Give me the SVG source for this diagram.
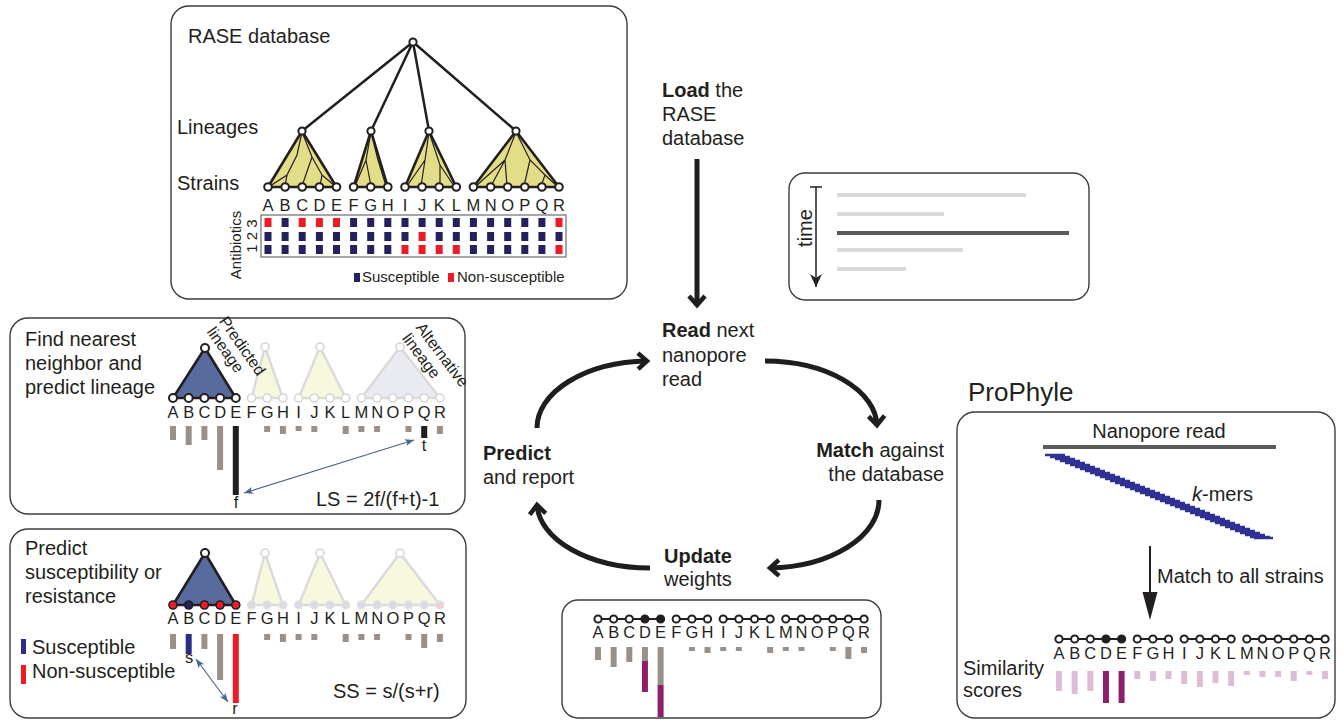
<svg xmlns="http://www.w3.org/2000/svg" width="1340" height="721" viewBox="0 0 1340 721">
<defs>
<style>
text{font-family:"Liberation Sans",Arial,Helvetica,sans-serif;fill:#231f20}
.t20{font-size:20px}
.t15{font-size:15px}
.t16{font-size:16px}
.lt{font-size:16.5px;text-anchor:middle}
.box{fill:#fff;stroke:#3c3c3c;stroke-width:1.4}
.n{fill:#fff;stroke:#231f20;stroke-width:2}
.nf{fill:#231f20;stroke:#231f20;stroke-width:2}
.tri{fill:#e3dd87;stroke:#231f20;stroke-width:2.6;stroke-linejoin:round}
.btri{fill:#586b9f;stroke:#231f20;stroke-width:2.6;stroke-linejoin:round}
.tl{fill:none;stroke:#231f20;stroke-width:1.2}
.S{fill:#24215e}
.R{fill:#ed1c24}
.g{fill:#9a908a}
.k{fill:#231f20}
.pk{fill:#dfbcd6}
.pu{fill:#8d1f6f}
.cyc{fill:none;stroke:#1e1e1e;stroke-width:5;marker-end:url(#chev)}
.fy{fill:#f8f8df;stroke:#dadada;stroke-width:2.4;stroke-linejoin:round}
.fb{fill:#e9ebf0;stroke:#dadada;stroke-width:2.4;stroke-linejoin:round}
.fn{fill:#fff;stroke:#d6d6d6;stroke-width:1.6}
.fn2{fill:#d9dbe3;stroke:#e2e2e2;stroke-width:1.4}
.row{stroke:#231f20;stroke-width:2}
.dbl{stroke:#4a6688;stroke-width:1.2;marker-start:url(#barb);marker-end:url(#barb)}
</style>
<marker id="chev" markerUnits="userSpaceOnUse" viewBox="-14 -11 18 22" refX="0" refY="0" markerWidth="18" markerHeight="22" orient="auto" overflow="visible">
<path d="M-9,-8 L0,0 L-9,8" fill="none" stroke="#1e1e1e" stroke-width="4.5"/>
</marker>
<marker id="tri" markerUnits="userSpaceOnUse" viewBox="-14 -7 16 14" refX="0" refY="0" markerWidth="16" markerHeight="14" orient="auto" overflow="visible">
<path d="M0,0 L-13,-6 L-9,0 L-13,6 z" fill="#231f20"/>
</marker>
<marker id="barb" markerUnits="userSpaceOnUse" viewBox="-10 -5 12 10" refX="0" refY="0" markerWidth="12" markerHeight="10" orient="auto-start-reverse" overflow="visible">
<path d="M0,0 L-9,-3.5 L-7,0 L-9,3.5 z" fill="#4a6688"/>
</marker>
</defs>
<rect width="1340" height="721" fill="#fff"/>

<g id="rase-database">
<rect class="box" x="171" y="6" width="456" height="293" rx="18"/>
<text class="t20" x="188" y="43">RASE database</text>
<text class="t20" x="177" y="134">Lineages</text>
<text class="t20" x="177" y="190">Strains</text>
<path d="M413,42 L302,131 M413,42 L371,131 M413,42 L429,131 M413,42 L516,131" stroke="#231f20" stroke-width="2.5" fill="none"/>
<polygon class="tri" points="302,131 268,187 336.5,187"/>
<polygon class="tri" points="371,131 353.6,187 387.8,187"/>
<polygon class="tri" points="429,131 405,187 456.3,187"/>
<polygon class="tri" points="516,131 473.4,187 559,187"/>
<path class="tl" d="M302,132 L297,155 L287,175 L270,186 M287,175 L285,186 M302,132 L312,157 L322,175 L320,186 M312,157 L302,186 M322,175 L335,186"/>
<path class="tl" d="M371,132 L366,160 L355,186 M366,160 L371,186 M371,132 L378,160 L386,186"/>
<path class="tl" d="M429,132 L425,160 L407,186 M425,160 L421,186 M429,132 L440,165 L440,186 M440,165 L454,186"/>
<path class="tl" d="M516,132 L505,160 L491,186 M505,160 L476,186 M505,160 L507,186 M516,132 L530,160 L545,175 L557,186 M545,175 L541,186 M530,160 L524,186"/>
<circle class="n" cx="413" cy="42" r="3.6"/>
<circle class="n" cx="302" cy="131" r="3.6"/>
<circle class="n" cx="371" cy="131" r="3.6"/>
<circle class="n" cx="429" cy="131" r="3.6"/>
<circle class="n" cx="516" cy="131" r="3.6"/>
<g>
<circle class="n" cx="268" cy="187" r="3.8"/><circle class="n" cx="285.1" cy="187" r="3.8"/><circle class="n" cx="302.2" cy="187" r="3.8"/><circle class="n" cx="319.4" cy="187" r="3.8"/><circle class="n" cx="336.5" cy="187" r="3.8"/>
<circle class="n" cx="353.6" cy="187" r="3.8"/><circle class="n" cx="370.7" cy="187" r="3.8"/><circle class="n" cx="387.8" cy="187" r="3.8"/>
<circle class="n" cx="405" cy="187" r="3.8"/><circle class="n" cx="422.1" cy="187" r="3.8"/><circle class="n" cx="439.2" cy="187" r="3.8"/><circle class="n" cx="456.3" cy="187" r="3.8"/>
<circle class="n" cx="473.4" cy="187" r="3.8"/><circle class="n" cx="490.6" cy="187" r="3.8"/><circle class="n" cx="507.7" cy="187" r="3.8"/><circle class="n" cx="524.8" cy="187" r="3.8"/><circle class="n" cx="541.9" cy="187" r="3.8"/><circle class="n" cx="559" cy="187" r="3.8"/>
</g>
<text class="lt" x="268 285.1 302.2 319.4 336.5 353.6 370.7 387.8 405 422.1 439.2 456.3 473.4 490.6 507.7 524.8 541.9 559" y="211">ABCDEFGHIJKLMNOPQR</text>
<rect x="261" y="215" width="305" height="42" fill="none" stroke="#6d6d6d" stroke-width="1.2"/>
<g>
<rect class="R" x="264.5" y="218" width="7" height="9"/><rect class="S" x="281.6" y="218" width="7" height="9"/><rect class="R" x="298.7" y="218" width="7" height="9"/><rect class="R" x="315.9" y="218" width="7" height="9" fill="#d42a2a"/><rect class="R" x="333" y="218" width="7" height="9"/><rect class="S" x="350.1" y="218" width="7" height="9"/><rect class="S" x="367.2" y="218" width="7" height="9"/><rect class="S" x="384.3" y="218" width="7" height="9"/><rect class="S" x="401.5" y="218" width="7" height="9"/><rect class="S" x="418.6" y="218" width="7" height="9"/><rect class="S" x="435.7" y="218" width="7" height="9"/><rect class="S" x="452.8" y="218" width="7" height="9"/><rect class="S" x="469.9" y="218" width="7" height="9"/><rect class="S" x="487.1" y="218" width="7" height="9"/><rect class="S" x="504.2" y="218" width="7" height="9"/><rect class="S" x="521.3" y="218" width="7" height="9"/><rect class="S" x="538.4" y="218" width="7" height="9"/><rect class="R" x="555.5" y="218" width="7" height="9"/>
<rect class="S" x="264.5" y="232" width="7" height="9"/><rect class="S" x="281.6" y="232" width="7" height="9"/><rect class="S" x="298.7" y="232" width="7" height="9"/><rect class="S" x="315.9" y="232" width="7" height="9"/><rect class="S" x="333" y="232" width="7" height="9"/><rect class="S" x="350.1" y="232" width="7" height="9"/><rect class="S" x="367.2" y="232" width="7" height="9"/><rect class="S" x="384.3" y="232" width="7" height="9"/><rect class="S" x="401.5" y="232" width="7" height="9"/><rect class="R" x="418.6" y="232" width="7" height="9"/><rect class="S" x="435.7" y="232" width="7" height="9"/><rect class="S" x="452.8" y="232" width="7" height="9"/><rect class="S" x="469.9" y="232" width="7" height="9"/><rect class="S" x="487.1" y="232" width="7" height="9"/><rect class="S" x="504.2" y="232" width="7" height="9"/><rect class="S" x="521.3" y="232" width="7" height="9"/><rect class="S" x="538.4" y="232" width="7" height="9"/><rect class="S" x="555.5" y="232" width="7" height="9"/>
<rect class="S" x="264.5" y="245" width="7" height="9"/><rect class="S" x="281.6" y="245" width="7" height="9"/><rect class="S" x="298.7" y="245" width="7" height="9"/><rect class="S" x="315.9" y="245" width="7" height="9"/><rect class="S" x="333" y="245" width="7" height="9"/><rect class="S" x="350.1" y="245" width="7" height="9"/><rect class="S" x="367.2" y="245" width="7" height="9"/><rect class="S" x="384.3" y="245" width="7" height="9"/><rect class="R" x="401.5" y="245" width="7" height="9"/><rect class="R" x="418.6" y="245" width="7" height="9"/><rect class="R" x="435.7" y="245" width="7" height="9"/><rect class="R" x="452.8" y="245" width="7" height="9"/><rect class="S" x="469.9" y="245" width="7" height="9"/><rect class="S" x="487.1" y="245" width="7" height="9"/><rect class="S" x="504.2" y="245" width="7" height="9"/><rect class="S" x="521.3" y="245" width="7" height="9"/><rect class="S" x="538.4" y="245" width="7" height="9"/><rect class="R" x="555.5" y="245" width="7" height="9"/>
</g>
<text class="t15" transform="translate(241,245) rotate(-90)" text-anchor="middle">Antibiotics</text>
<text class="t15" transform="translate(257,236) rotate(-90)" text-anchor="middle">1 2 3</text>
<rect class="S" x="354" y="273" width="6" height="9"/>
<text class="t15" x="362" y="282">Susceptible</text>
<rect class="R" x="448" y="273" width="6" height="9"/>
<text class="t15" x="457" y="282">Non-susceptible</text>
</g>

<g id="load-text">
<text class="t20" x="662" y="97"><tspan font-weight="bold">Load</tspan> the</text>
<text class="t20" x="662" y="121">RASE</text>
<text class="t20" x="662" y="145">database</text>
</g>

<g id="read-stream">
<rect class="box" x="789" y="173" width="300" height="127" rx="16"/>
<line x1="810" y1="187" x2="822" y2="187" stroke="#231f20" stroke-width="1.5"/>
<line x1="816" y1="187" x2="816" y2="287" stroke="#231f20" stroke-width="1.5" marker-end="url(#tri)"/>
<text class="t20" transform="translate(812,228) rotate(-90)" text-anchor="middle">time</text>
<g stroke-width="4">
<line x1="837" y1="195" x2="1026" y2="195" stroke="#d9d9d9"/>
<line x1="837" y1="214" x2="944" y2="214" stroke="#d9d9d9"/>
<line x1="837" y1="233" x2="1069" y2="233" stroke="#5a5a5a"/>
<line x1="837" y1="250" x2="963" y2="250" stroke="#d9d9d9"/>
<line x1="837" y1="269" x2="906" y2="269" stroke="#d9d9d9"/>
</g>
</g>

<g id="step-read"><text class="t20" x="662" y="337"><tspan font-weight="bold">Read</tspan> next</text><text class="t20" x="662" y="362">nanopore</text><text class="t20" x="662" y="386">read</text></g>
<g id="step-match"><text class="t20" x="944" y="457" text-anchor="end"><tspan font-weight="bold">Match</tspan> against</text><text class="t20" x="944" y="481" text-anchor="end">the database</text></g>
<g id="step-update"><text class="t20" x="664" y="563" font-weight="bold">Update</text><text class="t20" x="664" y="586">weights</text></g>
<g id="step-predict"><text class="t20" x="483" y="460" font-weight="bold">Predict</text><text class="t20" x="483" y="484">and report</text></g>

<g id="connectors">
<line x1="697" y1="159" x2="697" y2="305" stroke="#1e1e1e" stroke-width="5" marker-end="url(#chev)"/>
<path class="cyc" d="M537,428 A113,67 0 0 1 647,361"/>
<path class="cyc" d="M765,361 A112,66 0 0 1 877,425"/>
<path class="cyc" d="M879,500 A112,68 0 0 1 770,568"/>
<path class="cyc" d="M650,568 A113,66 0 0 1 537,505"/>
</g>

<g id="lineage-box">
<rect class="box" x="10" y="318" width="455" height="196" rx="18"/>
<text class="t20" x="25" y="346">Find nearest</text>
<text class="t20" x="25" y="370">neighbor and</text>
<text class="t20" x="25" y="394">predict lineage</text>
<polygon class="fy" points="265,347 251.5,398 282.9,398"/>
<polygon class="fy" points="320,347 298.6,398 345.7,398"/>
<polygon class="fb" points="400,347 361.4,398 439.9,398"/>
<g class="fn">
<circle cx="265" cy="347" r="4"/><circle cx="320" cy="347" r="4"/><circle cx="400" cy="347" r="4"/>
<circle cx="251.5" cy="398" r="4"/><circle cx="267.2" cy="398" r="4"/><circle cx="282.9" cy="398" r="4"/><circle cx="298.6" cy="398" r="4"/><circle cx="314.3" cy="398" r="4"/><circle cx="330" cy="398" r="4"/><circle cx="345.7" cy="398" r="4"/><circle cx="361.4" cy="398" r="4"/><circle cx="377.1" cy="398" r="4"/><circle cx="392.8" cy="398" r="4"/><circle cx="408.5" cy="398" r="4"/><circle cx="424.2" cy="398" r="4"/><circle cx="439.9" cy="398" r="4"/>
</g>
<polygon class="btri" points="205,348 173,398 235.8,398"/>
<circle class="n" cx="205" cy="348" r="4"/>
<circle class="n" cx="173" cy="398" r="4"/><circle class="n" cx="188.7" cy="398" r="4"/><circle class="n" cx="204.4" cy="398" r="4"/><circle class="n" cx="220.1" cy="398" r="4"/><circle class="n" cx="235.8" cy="398" r="4"/>
<text class="t16" transform="translate(238,349) rotate(55)" text-anchor="middle">Predicted</text>
<text class="t16" transform="translate(221,353) rotate(55)" text-anchor="middle">lineage</text>
<text class="t16" transform="translate(438,358) rotate(53)" text-anchor="middle">Alternative</text>
<text class="t16" transform="translate(417,359) rotate(53)" text-anchor="middle">lineage</text>
<text class="lt" x="173 188.7 204.4 220.1 235.8 251.5 267.2 282.9 298.6 314.3 330 345.7 361.4 377.1 392.8 408.5 424.2 439.9" y="418">ABCDEFGHIJKLMNOPQR</text>
<rect class="g" x="170" y="426" width="6" height="14"/><rect class="g" x="185.7" y="426" width="6" height="19"/><rect class="g" x="201.4" y="426" width="6" height="14"/><rect class="g" x="217.1" y="426" width="6" height="44"/><rect class="k" x="232.8" y="426" width="6" height="69"/>
<rect class="g" x="264.2" y="426" width="6" height="6"/><rect class="g" x="279.9" y="426" width="6" height="8"/><rect class="g" x="295.6" y="426" width="6" height="5"/><rect class="g" x="311.3" y="426" width="6" height="6"/><rect class="g" x="342.7" y="426" width="6" height="8"/><rect class="g" x="358.4" y="426" width="6" height="6"/><rect class="g" x="374.1" y="426" width="6" height="6"/><rect class="g" x="405.5" y="426" width="6" height="6"/><rect class="k" x="421.2" y="426" width="6" height="12"/><rect class="g" x="436.9" y="426" width="6" height="8"/>
<text class="lt" x="424" y="451">t</text>
<text class="lt" x="236" y="508">f</text>
<line class="dbl" x1="244" y1="493" x2="414" y2="440"/>
<text class="t20" x="316" y="506">LS = 2f/(f+t)-1</text>
</g>

<g id="susceptibility-box">
<rect class="box" x="10" y="529" width="456" height="189" rx="18"/>
<text class="t20" x="25" y="555">Predict</text>
<text class="t20" x="25" y="579">susceptibility or</text>
<text class="t20" x="25" y="603">resistance</text>
<polygon class="fy" points="265,553 251.5,605 282.9,605"/>
<polygon class="fy" points="320,553 298.6,605 345.7,605"/>
<polygon class="fy" points="400,553 361.4,605 439.9,605"/>
<g class="fn"><circle cx="265" cy="553" r="4"/><circle cx="320" cy="553" r="4"/><circle cx="400" cy="553" r="4"/></g>
<g class="fn2">
<circle cx="251.5" cy="605" r="4"/><circle cx="267.2" cy="605" r="4"/><circle cx="282.9" cy="605" r="4"/><circle cx="298.6" cy="605" r="4"/><circle cx="314.3" cy="605" r="4"/><circle cx="330" cy="605" r="4"/><circle cx="345.7" cy="605" r="4"/><circle cx="361.4" cy="605" r="4"/><circle cx="377.1" cy="605" r="4"/><circle cx="392.8" cy="605" r="4"/><circle cx="408.5" cy="605" r="4"/><circle cx="424.2" cy="605" r="4"/><circle cx="439.9" cy="605" r="4" fill="#f0d2d4"/>
</g>
<polygon class="btri" points="205,553 173,605 235.8,605"/>
<circle class="n" cx="205" cy="553" r="4"/>
<g stroke="#231f20" stroke-width="1.6">
<circle cx="173" cy="605" r="4" fill="#ed1c24"/><circle cx="188.7" cy="605" r="4" fill="#24215e"/><circle cx="204.4" cy="605" r="4" fill="#ed1c24"/><circle cx="220.1" cy="605" r="4" fill="#ed1c24"/><circle cx="235.8" cy="605" r="4" fill="#ed1c24"/>
</g>
<text class="lt" x="173 188.7 204.4 220.1 235.8 251.5 267.2 282.9 298.6 314.3 330 345.7 361.4 377.1 392.8 408.5 424.2 439.9" y="624">ABCDEFGHIJKLMNOPQR</text>
<rect class="g" x="170" y="634" width="6" height="15"/><rect x="185.7" y="634" width="6" height="20" fill="#2a2f85"/><rect class="g" x="201.4" y="634" width="6" height="15"/><rect class="g" x="217.1" y="634" width="6" height="46"/><rect class="R" x="232.8" y="634" width="6" height="69"/>
<rect class="g" x="264.2" y="634" width="6" height="6"/><rect class="g" x="279.9" y="634" width="6" height="8"/><rect class="g" x="295.6" y="634" width="6" height="6"/><rect class="g" x="311.3" y="634" width="6" height="6"/><rect class="g" x="342.7" y="634" width="6" height="8"/><rect class="g" x="358.4" y="634" width="6" height="6"/><rect class="g" x="374.1" y="634" width="6" height="6"/><rect class="g" x="405.5" y="634" width="6" height="6"/><rect class="g" x="421.2" y="634" width="6" height="14"/><rect class="g" x="436.9" y="634" width="6" height="8"/>
<rect x="21" y="639" width="5" height="15" fill="#2a2f85"/>
<text class="t20" x="32" y="654">Susceptible</text>
<rect class="R" x="21" y="665" width="5" height="19"/>
<text class="t20" x="32" y="678">Non-susceptible</text>
<text class="lt" x="189" y="663">s</text>
<text class="lt" x="235" y="714">r</text>
<line class="dbl" x1="196" y1="659" x2="228" y2="702"/>
<text class="t20" x="333" y="698">SS = s/(s+r)</text>
</g>

<g id="weights-box">
<rect class="box" x="562" y="600" width="319" height="118" rx="16"/>
<path class="row" d="M598,619 H660.6 M676.25,619 H707.55 M723.2,619 H770.15 M785.8,619 H864.05"/>
<circle class="n" cx="598" cy="619" r="3.6"/><circle class="n" cx="613.65" cy="619" r="3.6"/><circle class="n" cx="629.3" cy="619" r="3.6"/><circle class="nf" cx="644.95" cy="619" r="3.6"/><circle class="nf" cx="660.6" cy="619" r="3.6"/>
<circle class="n" cx="676.25" cy="619" r="3.6"/><circle class="n" cx="691.9" cy="619" r="3.6"/><circle class="n" cx="707.55" cy="619" r="3.6"/>
<circle class="n" cx="723.2" cy="619" r="3.6"/><circle class="n" cx="738.85" cy="619" r="3.6"/><circle class="n" cx="754.5" cy="619" r="3.6"/><circle class="n" cx="770.15" cy="619" r="3.6"/>
<circle class="n" cx="785.8" cy="619" r="3.6"/><circle class="n" cx="801.45" cy="619" r="3.6"/><circle class="n" cx="817.1" cy="619" r="3.6"/><circle class="n" cx="832.75" cy="619" r="3.6"/><circle class="n" cx="848.4" cy="619" r="3.6"/><circle class="n" cx="864.05" cy="619" r="3.6"/>
<text class="lt" x="598 613.65 629.3 644.95 660.6 676.25 691.9 707.55 723.2 738.85 754.5 770.15 785.8 801.45 817.1 832.75 848.4 864.05" y="638">ABCDEFGHIJKLMNOPQR</text>
<rect class="g" x="595" y="647" width="6" height="13"/><rect class="g" x="610.65" y="647" width="6" height="20"/><rect class="g" x="626.3" y="647" width="6" height="15"/>
<rect class="g" x="641.95" y="647" width="6" height="14"/><rect class="pu" x="641.95" y="661" width="6" height="31"/>
<rect class="g" x="657.6" y="647" width="6" height="38"/><rect class="pu" x="657.6" y="685" width="6" height="32"/>
<rect class="g" x="688.9" y="647" width="6" height="4"/><rect class="g" x="704.55" y="647" width="6" height="6"/><rect class="g" x="720.2" y="647" width="6" height="4"/><rect class="g" x="735.85" y="647" width="6" height="4"/><rect class="g" x="767.15" y="647" width="6" height="6"/><rect class="g" x="782.8" y="647" width="6" height="4"/><rect class="g" x="798.45" y="647" width="6" height="4"/><rect class="g" x="829.75" y="647" width="6" height="4"/><rect class="g" x="845.4" y="647" width="6" height="12"/><rect class="g" x="861.05" y="647" width="6" height="6"/>
</g>

<g id="prophyle">
<text x="968" y="401" font-family="'Open Sans','Noto Sans',sans-serif" font-size="26">ProPhyle</text>
<rect class="box" x="957" y="412" width="378" height="306" rx="18"/>
<text class="t20" x="1159" y="438" text-anchor="middle">Nanopore read</text>
<line x1="1043" y1="447" x2="1276" y2="447" stroke="#5a5a5a" stroke-width="4"/>
<path stroke="#2e3192" stroke-width="2.4" fill="none" d="M1045,455h20M1050,457h20M1055,459h20M1060,461h20M1065,463h20M1070,465h20M1075,467h20M1080,469h20M1085,471h20M1090,473h20M1095,475h20M1100,477h20M1105,479h20M1110,481h20M1115,483h20M1120,485h20M1125,487h20M1130,489h20M1135,491h20M1140,493h20M1145,495h20M1150,497h20M1155,499h20M1160,501h20M1165,503h20M1170,505h20M1175,507h20M1180,509h20M1185,511h20M1190,513h20M1195,515h20M1200,517h20M1205,519h20M1210,521h20M1215,523h20M1220,525h20M1225,527h20M1230,529h20M1235,531h20M1240,533h20M1245,535h20M1250,537h20M1254,538h19"/>
<text class="t20" x="1192" y="501"><tspan font-style="italic">k</tspan>-mers</text>
<line x1="1150" y1="546" x2="1150" y2="598" stroke="#231f20" stroke-width="2"/>
<polygon points="1142.5,592 1157.5,592 1150,620" fill="#231f20"/>
<text class="t20" x="1157" y="583">Match to all strains</text>
<path class="row" d="M1059,639 H1121.6 M1137.25,639 H1168.55 M1184.2,639 H1231.15 M1246.8,639 H1325.05"/>
<circle class="n" cx="1059" cy="639" r="3.6"/><circle class="n" cx="1074.65" cy="639" r="3.6"/><circle class="n" cx="1090.3" cy="639" r="3.6"/><circle class="nf" cx="1105.95" cy="639" r="3.6"/><circle class="nf" cx="1121.6" cy="639" r="3.6"/>
<circle class="n" cx="1137.25" cy="639" r="3.6"/><circle class="n" cx="1152.9" cy="639" r="3.6"/><circle class="n" cx="1168.55" cy="639" r="3.6"/>
<circle class="n" cx="1184.2" cy="639" r="3.6"/><circle class="n" cx="1199.85" cy="639" r="3.6"/><circle class="n" cx="1215.5" cy="639" r="3.6"/><circle class="n" cx="1231.15" cy="639" r="3.6"/>
<circle class="n" cx="1246.8" cy="639" r="3.6"/><circle class="n" cx="1262.45" cy="639" r="3.6"/><circle class="n" cx="1278.1" cy="639" r="3.6"/><circle class="n" cx="1293.75" cy="639" r="3.6"/><circle class="n" cx="1309.4" cy="639" r="3.6"/><circle class="n" cx="1325.05" cy="639" r="3.6"/>
<text class="lt" x="1059 1074.65 1090.3 1105.95 1121.6 1137.25 1152.9 1168.55 1184.2 1199.85 1215.5 1231.15 1246.8 1262.45 1278.1 1293.75 1309.4 1325.05" y="659">ABCDEFGHIJKLMNOPQR</text>
<text class="t20" x="963" y="675">Similarity</text>
<text class="t20" x="963" y="697">scores</text>
<rect class="pk" x="1056" y="671" width="6" height="20"/><rect class="pk" x="1071.65" y="671" width="6" height="23"/><rect class="pk" x="1087.3" y="671" width="6" height="20"/><rect class="pu" x="1102.95" y="671" width="6" height="32"/><rect class="pu" x="1118.6" y="671" width="6" height="32"/>
<rect class="pk" x="1134.25" y="671" width="6" height="8"/><rect class="pk" x="1149.9" y="671" width="6" height="10"/><rect class="pk" x="1165.55" y="671" width="6" height="8"/><rect class="pk" x="1181.2" y="671" width="6" height="13"/><rect class="pk" x="1196.85" y="671" width="6" height="16"/><rect class="pk" x="1212.5" y="671" width="6" height="12"/><rect class="pk" x="1228.15" y="671" width="6" height="15"/><rect class="pk" x="1243.8" y="671" width="6" height="4"/><rect class="pk" x="1259.45" y="671" width="6" height="6"/><rect class="pk" x="1275.1" y="671" width="6" height="6"/><rect class="pk" x="1290.75" y="671" width="6" height="10"/><rect class="pk" x="1306.4" y="671" width="6" height="4"/><rect class="pk" x="1322.05" y="671" width="6" height="8"/>
</g>
</svg>
